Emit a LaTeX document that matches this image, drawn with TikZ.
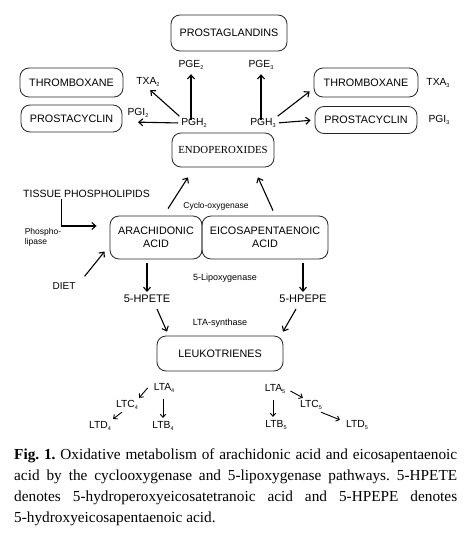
\documentclass[tikz,border=0pt]{standalone}
\usepackage{fontspec}
\setmainfont{Liberation Serif}
\setsansfont{Liberation Sans}
\usetikzlibrary{arrows.meta,calc}
\newcommand\sbs[1]{\raisebox{-0.5ex}{\fontsize{5.5}{5.5}\selectfont #1}}
\begin{document}
\begin{tikzpicture}[x=1pt,y=-1pt,
  box/.style={draw=black!85, line width=0.8pt, rounded corners=9pt, inner sep=0pt, font=\sffamily\fontsize{10.8}{12.5}\selectfont, align=center},
  lbl/.style={inner sep=1pt, font=\sffamily\fontsize{10.3}{12}\selectfont},
  big/.style={inner sep=1pt, font=\sffamily\fontsize{11}{13}\selectfont},
  enz/.style={inner sep=1pt, font=\sffamily\fontsize{8.5}{10}\selectfont},
  arr/.style={-{Straight Barb[length=4pt,width=7pt]}, line width=1.1pt},
  sarr/.style={-{Straight Barb[length=3pt,width=5.5pt]}, line width=0.9pt}]
\path[use as bounding box, fill=white] (0,0) rectangle (468,533);
% boxes
\node[box, minimum width=116pt, minimum height=36pt] (pg) at (229,33) {PROSTAGLANDINS};
\node[box, minimum width=103pt, minimum height=29pt] (thrL) at (71.5,82.5) {THROMBOXANE};
\node[box, minimum width=101pt, minimum height=27pt] (prosL) at (71.5,118.5) {PROSTACYCLIN};
\node[box, minimum width=104pt, minimum height=29pt] (thrR) at (366,82.5) {THROMBOXANE};
\node[box, minimum width=102pt, minimum height=27pt] (prosR) at (366,120) {PROSTACYCLIN};
\node[box, font=\rmfamily\fontsize{10.8}{12}\selectfont, minimum width=102pt, minimum height=34pt] (endo) at (223,150) {ENDOPEROXIDES};
\node[box, minimum width=92pt, minimum height=43pt] (ara) at (156,237.5) {ARACHIDONIC\\ACID};
\node[box, minimum width=126pt, minimum height=43pt] (eico) at (265,237.5) {EICOSAPENTAENOIC\\ACID};
\node[box, minimum width=126pt, minimum height=35pt] (leuko) at (220,353.5) {LEUKOTRIENES};
% labels
\node[lbl] (pge2) at (191,65) {PGE\sbs{2}};
\node[lbl] (pge3) at (261,65) {PGE\sbs{3}};
\node[lbl] (txa2) at (148,82) {TXA\sbs{2}};
\node[lbl] (pgi2) at (138,113) {PGI\sbs{2}};
\node[lbl] (pgh2) at (194,123) {PGH\sbs{2}};
\node[lbl] (pgh3) at (263,123) {PGH\sbs{3}};
\node[lbl] (txa3) at (438,83) {TXA\sbs{3}};
\node[lbl] (pgi3) at (439,120) {PGI\sbs{3}};
\node[inner sep=1pt, font=\sffamily\fontsize{10.5}{12}\selectfont, anchor=west] (tissue) at (22,194) {TISSUE PHOSPHOLIPIDS};
\node[enz, align=left] (phos) at (43,237) {Phospho-\\lipase};
\node[enz] (cyclo) at (216,206) {Cyclo-oxygenase};
\node[inner sep=1pt, font=\sffamily\fontsize{10}{12}\selectfont] (diet) at (64,286) {DIET};
\node[enz, font=\sffamily\fontsize{9}{11}\selectfont] (lipox) at (225,278) {5-Lipoxygenase};
\node[big] (hpete) at (147,299) {5-HPETE};
\node[big] (hpepe) at (303,299) {5-HPEPE};
\node[enz, font=\sffamily\fontsize{9}{11}\selectfont] (ltas) at (220,323) {LTA-synthase};
\node[lbl] (lta4) at (164,388) {LTA\sbs{4}};
\node[lbl] (ltc4) at (127,405) {LTC\sbs{4}};
\node[lbl] (ltd4) at (100,426) {LTD\sbs{4}};
\node[lbl] (ltb4) at (163,426) {LTB\sbs{4}};
\node[lbl] (lta5) at (275,389) {LTA\sbs{5}};
\node[lbl] (ltb5) at (276,425) {LTB\sbs{5}};
\node[lbl] (ltc5) at (311,405) {LTC\sbs{5}};
\node[lbl] (ltd5) at (357,425) {LTD\sbs{5}};
% arrows top
\draw[arr] ([yshift=-3pt]pge2.south |- pgh2.north) -- ([yshift=-3pt]pge2.south);
\draw[arr] ([yshift=-3pt]pge3.south |- pgh3.north) -- ([yshift=-3pt]pge3.south);
\draw[arr, shorten >=3pt, shorten <=1pt] (pgh2.north west) -- (txa2.south);
\draw[arr, shorten <=2pt] (pgh2.west) -- ([yshift=-3pt]pgi2.south);
\draw[arr, shorten >=5pt, shorten <=1pt] (pgh3.north east) -- ($(thrR.south west)!0.3!(thrR.north west)$);
\draw[arr, shorten >=4pt, shorten <=2pt] (pgh3.east) -- (prosR.west);
% cyclo-oxygenase
\draw[arr] ([xshift=12pt,yshift=7pt]ara.north) -- ([xshift=-35pt,yshift=-10pt]endo.south);
\draw[arr] ([xshift=8pt,yshift=5pt]eico.north) -- ([xshift=35pt,yshift=-10pt]endo.south);
% sources
\draw[arr] ([xshift=-25pt]tissue.south) |- ([xshift=-13pt,yshift=11.5pt]ara.west);
\draw[arr] ([shift={(8pt,5pt)}]diet.north east) -- ([shift={(-5pt,-14pt)}]ara.west);
% lipoxygenase
\draw[arr] ([yshift=-4pt]hpete.north |- ara.south) -- ([yshift=2pt]hpete.north);
\draw[arr] ([yshift=-4pt]hpepe.north |- eico.south) -- ([yshift=2pt]hpepe.north);
\draw[arr] ([xshift=10pt,yshift=-5pt]hpete.south) -- ([xshift=-53pt,yshift=4pt]leuko.north);
\draw[arr] ([xshift=-7pt,yshift=-5pt]hpepe.south) -- ([xshift=63pt,yshift=4pt]leuko.north);
% leukotrienes
\draw[sarr] ([xshift=-5pt]lta4.west) -- ([yshift=1pt]ltc4.north east);
\draw[sarr] ([xshift=-5pt,yshift=-1pt]ltc4.south) -- ([xshift=1pt,yshift=1pt]ltd4.north east);
\draw[sarr] ([yshift=-5pt]ltb4.north |- lta4.south) -- ([yshift=2pt]ltb4.north);
\draw[sarr] ([xshift=-3pt,yshift=-5pt]ltb5.north |- lta5.south) -- ([xshift=-3pt,yshift=2pt]ltb5.north);
\draw[sarr] ([xshift=4pt,yshift=-2pt]lta5.east) -- ([xshift=4pt,yshift=1pt]ltc5.north west);
\draw[sarr] ([xshift=-2pt,yshift=-1pt]ltc5.south east) -- ([xshift=-5pt,yshift=-1pt]ltd5.north west);
% caption
\node[anchor=north west, inner sep=0pt, text width=443pt, align=justify, font=\fontsize{15.3}{20.7}\selectfont] (cap) at (14,449) {\frenchspacing\tolerance=9999\emergencystretch=2em\hyphenpenalty=10000 \textbf{Fig. 1.} Oxidative metabolism of arachidonic acid and eicosapentaenoic\linebreak acid by the cyclooxygenase and 5-lipoxygenase pathways. 5-HPETE\linebreak denotes 5-hydroperoxyeicosatetranoic acid and 5-HPEPE denotes\linebreak 5-hydroxyeicosapentaenoic acid.};
\end{tikzpicture}
\end{document}
